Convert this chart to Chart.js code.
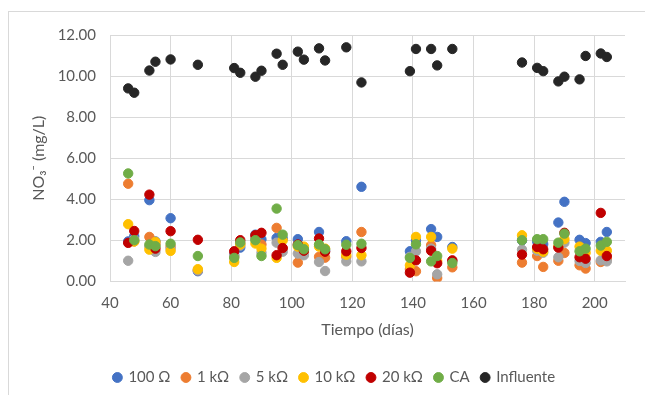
<!DOCTYPE html>
<html>
<head>
<meta charset="utf-8">
<script src="https://cdn.jsdelivr.net/npm/chart.js@4/dist/chart.umd.min.js"></script>
<style>
  html, body { margin: 0; padding: 0; background: #ffffff; overflow: hidden; }
  body { width: 645px; height: 395px; position: relative; }
  #frame {
    position: absolute; left: 8px; top: 11px;
    width: 636px; height: 383px;
    border: 1px solid #d9d9d9; border-right: none; border-bottom: none;
  }
  #wrap { position: absolute; left: 0; top: 0; width: 636px; height: 383px; }
</style>
</head>
<body>
<div id="frame"><div id="wrap"><canvas id="c"></canvas></div></div>
<script>
// Sampling days
const days = [46, 48, 53, 55, 60, 69, 81, 83, 88, 90, 95, 97, 102, 104, 109, 111, 118, 123,
              139, 141, 146, 148, 153, 176, 181, 183, 188, 190, 195, 197, 202, 204];

// Nitrate (mg/L) per reactor
const r100 = [1.95, 2.20, 3.96, 1.95, 3.08, 0.50, 1.30, 1.65, 2.28, 2.05, 2.12, 2.10, 2.06, 1.55, 2.41, 1.50, 1.96, 4.61,
              1.47, 2.00, 2.55, 2.17, 1.68, 2.00, 1.95, 1.82, 2.87, 3.88, 2.03, 1.87, 1.93, 2.41];
const r1k  = [4.76, 1.95, 2.17, 1.80, 1.70, 0.55, 1.20, 1.85, 2.10, 1.80, 2.61, 1.60, 0.92, 1.40, 1.20, 1.16, 1.20, 2.41,
              0.60, 0.50, 1.77, 0.17, 0.69, 0.92, 1.24, 0.71, 1.01, 1.39, 0.79, 0.63, 0.95, 1.10];
const r5k  = [1.01, 2.05, 1.70, 1.44, 1.60, 0.55, 1.25, 1.75, 2.10, 1.40, 1.89, 1.45, 1.36, 1.28, 0.95, 0.51, 0.98, 0.98,
              1.20, 1.47, 1.60, 0.35, 1.00, 1.55, 1.50, 1.40, 1.18, 1.89, 1.00, 0.90, 1.03, 0.98];
const r10k = [2.79, 1.95, 1.55, 1.93, 1.49, 0.60, 0.95, 1.80, 1.85, 1.60, 1.15, 2.00, 1.70, 1.70, 1.70, 1.60, 1.30, 1.28,
              0.79, 2.17, 2.17, 1.00, 1.60, 2.25, 1.60, 1.45, 1.70, 2.06, 1.70, 1.40, 1.50, 1.50];
const r20k = [1.88, 2.46, 4.23, 1.60, 2.45, 2.03, 1.47, 2.01, 2.25, 2.37, 1.28, 1.63, 1.80, 1.50, 2.09, 1.45, 1.47, 1.63,
              0.43, 1.03, 1.50, 0.89, 1.03, 1.31, 1.68, 1.57, 1.65, 2.37, 1.18, 1.11, 3.34, 1.24];
const ca   = [5.26, 2.01, 1.80, 1.72, 1.84, 1.24, 1.15, 1.90, 2.01, 1.24, 3.55, 2.28, 1.77, 1.57, 1.80, 1.57, 1.79, 1.84,
              1.15, 1.81, 0.98, 1.24, 0.90, 2.01, 2.06, 2.06, 1.89, 2.33, 1.47, 1.60, 1.75, 1.93];
const influente = [9.40, 9.19, 10.27, 10.70, 10.81, 10.55, 10.39, 10.16, 9.97, 10.26, 11.09, 10.55, 11.19, 10.80, 11.35, 10.76, 11.40, 9.69,
                   10.24, 11.32, 11.32, 10.52, 11.32, 10.66, 10.40, 10.24, 9.74, 9.97, 9.84, 10.98, 11.10, 10.93];

const seriesNames = ['100 Ω', '1 kΩ', '5 kΩ', '10 kΩ', '20 kΩ', 'CA', 'Influente'];
const seriesValues = [r100, r1k, r5k, r10k, r20k, ca, influente];
const seriesColors = ['#4472C4', '#ED7D31', '#A5A5A5', '#FFC000', '#C00000', '#70AD47', '#262626'];

const xTicks = [40, 60, 80, 100, 120, 140, 160, 180, 200];

const n = seriesNames.length;
const datasets = seriesNames.map((name, i) => ({
  label: name,
  data: days.map((d, k) => ({ x: d, y: seriesValues[i][k] })),
  backgroundColor: seriesColors[i],
  borderColor: seriesColors[i],
  borderWidth: 1,
  pointRadius: 4.7,
  pointHoverRadius: 4.7,
  pointStyle: 'circle',
  order: n - 1 - i   // later series drawn on top
}));

const textColor = '#595959';
const gridColor = '#d9d9d9';

new Chart(document.getElementById('c'), {
  type: 'scatter',
  data: { datasets },
  options: {
    responsive: true,
    maintainAspectRatio: false,
    animation: false,
    layout: { padding: { left: 15, right: 0, top: 20, bottom: 0 } },
    plugins: {
      tooltip: { enabled: false },
      legend: {
        position: 'bottom',
        labels: {
          usePointStyle: true,
          pointStyle: 'circle',
          boxWidth: 7,
          boxHeight: 7,
          padding: 12,
          color: textColor,
          font: { family: 'Lato, "Noto Sans", sans-serif', size: 15 },
          sort: (a, b) => a.datasetIndex - b.datasetIndex
        }
      }
    },
    scales: {
      x: {
        type: 'linear',
        min: 40,
        max: 210,
        afterBuildTicks: (s) => { s.ticks = xTicks.map(v => ({ value: v })); },
        afterFit: (s) => { s.height = 76.5; },
        grid: { color: gridColor, lineWidth: 1, drawTicks: false },
        border: { color: gridColor, width: 1 },
        ticks: {
          color: textColor,
          padding: 13,
          font: { family: 'Lato, "Noto Sans", sans-serif', size: 15 }
        },
        title: {
          display: true,
          text: 'Tiempo (días)',
          color: textColor,
          font: { family: 'Lato, "Noto Sans", sans-serif', size: 16 },
          padding: { top: 0, bottom: 18.4 }
        }
      },
      y: {
        min: 0,
        max: 12,
        afterFit: (s) => { s.width = 86; },
        grid: { color: gridColor, lineWidth: 1, drawTicks: false },
        border: { color: gridColor, width: 1 },
        ticks: {
          stepSize: 2,
          color: textColor,
          padding: 14,
          font: { family: 'Lato, "Noto Sans", sans-serif', size: 15 },
          callback: (v) => Number(v).toFixed(2)
        },
        title: {
          display: true,
          text: 'NO₃⁻ (mg/L)',
          color: textColor,
          font: { family: 'Lato, "Noto Sans", sans-serif', size: 16 },
          padding: { top: 5.5, bottom: 0 }
        }
      },
      yRight: {
        position: 'right',
        display: true,
        min: 0,
        max: 1,
        afterFit: (s) => { s.width = 20; },
        grid: { display: false, drawTicks: false },
        border: { display: false },
        ticks: { display: false }
      }
    }
  }
});
</script>
</body>
</html>
